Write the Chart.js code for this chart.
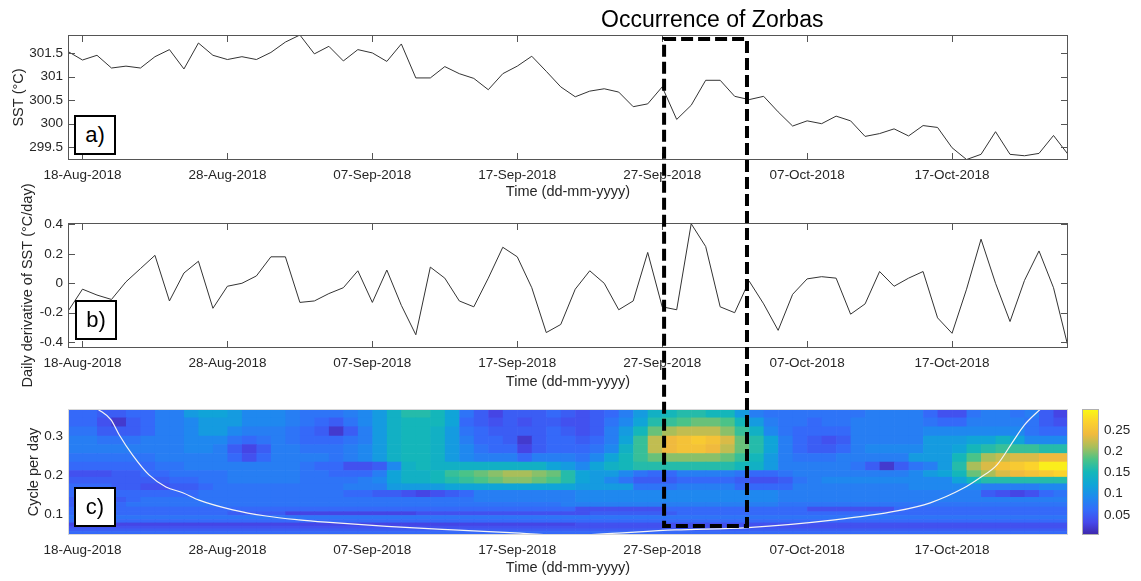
<!DOCTYPE html>
<html>
<head>
<meta charset="utf-8">
<script src="https://cdn.jsdelivr.net/npm/chart.js@4.4.0/dist/chart.umd.min.js"></script>
<style>
  body { margin: 0; background: #fff; }
  #fig { position: relative; width: 1141px; height: 581px; font-family: 'Liberation Sans', Arial, sans-serif; color: #000; overflow: hidden; }
  #fig canvas { position: absolute; left: 0; top: 0; }
  .tag { position: absolute; width: 42px; height: 40px; box-sizing: border-box; border: 2px solid #000; background: #fff; font-size: 22px; line-height: 36px; text-align: center; }
  #title { position: absolute; left: 601px; top: 8px; font-size: 23px; line-height: 22px; white-space: nowrap; }
</style>
</head>
<body>
<div id="fig">
  <canvas id="sstChart" width="1141" height="581"></canvas>
  <canvas id="derivChart" width="1141" height="581"></canvas>
  <canvas id="waveChart" width="1141" height="581"></canvas>
  <div id="title">Occurrence of Zorbas</div>
  <div class="tag" style="left:74px;top:115px">a)</div>
  <div class="tag" style="left:75px;top:300px">b)</div>
  <div class="tag" style="left:74px;top:487px">c)</div>
</div>
<script>
// day 0 = 18-Aug-2018, daily values 17-Aug-2018 .. 25-Oct-2018
var days = [-1,0,1,2,3,4,5,6,7,8,9,10,11,12,13,14,15,16,17,18,19,20,21,22,23,24,25,26,27,28,29,30,31,32,33,34,35,36,37,38,39,40,41,42,43,44,45,46,47,48,49,50,51,52,53,54,55,56,57,58,59,60,61,62,63,64,65,66,67,68];
var xTickDays = [0, 10, 20, 30, 40, 50, 60];
var xTickLabels = ['18-Aug-2018', '28-Aug-2018', '07-Sep-2018', '17-Sep-2018', '27-Sep-2018', '07-Oct-2018', '17-Oct-2018'];

// a) SST
var sst = [301.53,301.35,301.45,301.18,301.22,301.18,301.42,301.57,301.16,301.71,
  301.45,301.36,301.42,301.36,301.51,301.73,301.88,301.48,301.64,301.33,
  301.57,301.50,301.32,301.69,300.97,300.97,301.21,301.06,300.96,300.72,
  301.06,301.22,301.43,301.11,300.78,300.57,300.69,300.74,300.67,300.36,
  300.42,300.78,300.09,300.39,300.92,300.92,300.58,300.51,300.58,300.25,
  299.95,300.06,300.00,300.16,300.06,299.73,299.79,299.89,299.74,299.96,
  299.92,299.49,299.24,299.35,299.83,299.35,299.32,299.37,299.75,299.35];
var sstTicks = [299.5, 300, 300.5, 301, 301.5];

// b) daily derivative
var dSst = [-0.19,-0.04,-0.08,-0.11,0.01,0.10,0.19,-0.12,0.07,0.15,
  -0.17,-0.02,0.00,0.05,0.18,0.18,-0.13,-0.12,-0.07,-0.03,
  0.085,-0.13,0.09,-0.15,-0.35,0.11,0.035,-0.12,-0.16,0.035,
  0.245,0.18,-0.03,-0.335,-0.28,-0.04,0.085,0.00,-0.18,-0.12,
  0.21,-0.16,-0.18,0.405,0.25,-0.16,-0.20,0.015,-0.14,-0.32,
  -0.075,0.03,0.045,0.035,-0.21,-0.14,0.08,-0.02,0.035,0.08,
  -0.235,-0.34,-0.04,0.30,0.00,-0.26,0.02,0.22,-0.03,-0.43];
var dSstTicks = [-0.4, -0.2, 0, 0.2, 0.4];

// c) wavelet power (x100), rows top (high freq) to bottom, one column per day cell
var freqEdges = [0.371,0.349,0.326,0.302,0.280,0.257,0.235,0.213,0.196,0.179,0.162,0.144,0.131,0.119,0.107,0.097,0.087,0.078,0.070,0.063,0.056,0.050,0.046];
var freqTicks = [0.1, 0.2, 0.3];
var power = [
  [6,6,5,5,6,6,8,8,11,12, 12,11,9,9,9,8,7,7,7,8, 9,11,14,16,16,15,12,7,5,3, 5,5,5,6,5,4,5,6,8,11, 14,15,16,16,15,15,11,8,7,7, 7,7,7,7,7,8,8,8,8,6, 4,4,7,8,8,7,8,5,3],
  [6,6,4,2,5,6,8,8,9,11, 11,11,9,9,9,8,7,6,5,7, 9,11,14,15,15,15,12,6,5,4, 5,4,5,5,4,4,5,7,9,12, 16,17,18,19,19,18,15,11,8,7, 7,6,7,7,8,8,8,8,8,7, 6,6,8,8,8,8,7,5,4],
  [7,7,5,5,5,6,8,8,9,11, 11,9,8,8,8,7,6,5,2,5, 8,11,14,15,15,14,11,7,6,5, 5,5,5,6,5,4,5,8,11,15, 19,21,22,22,22,20,17,14,9,7, 6,6,6,6,8,8,8,8,8,9, 9,9,9,9,9,9,7,6,6],
  [8,8,7,7,7,8,8,8,9,9, 9,7,6,7,8,7,6,6,6,7, 8,11,14,15,15,14,11,8,6,6, 5,2,5,6,6,5,6,8,12,17, 22,24,25,26,25,23,19,16,12,8, 6,5,4,5,8,8,8,8,8,11, 11,11,12,12,14,12,9,9,9],
  [8,8,8,8,8,8,8,8,9,9, 8,5,3,5,8,8,7,7,7,8, 9,11,14,15,15,14,11,9,7,6, 6,3,5,6,6,6,7,9,14,17, 22,24,25,25,24,22,19,16,12,8, 6,5,5,6,8,9,9,9,9,11, 11,12,15,16,17,17,17,16,16],
  [7,7,7,7,7,7,8,8,8,8, 8,6,4,6,8,8,8,8,7,8, 9,11,14,15,15,14,11,9,8,8, 8,6,8,8,8,7,9,12,15,17, 19,20,20,20,20,19,17,15,11,8, 7,7,7,8,8,8,8,8,11,11, 11,15,18,21,22,23,23,24,24],
  [6,6,6,6,6,6,7,7,8,8, 8,8,8,8,8,8,7,6,6,4, 4,5,9,14,15,14,14,14,14,14, 14,14,14,12,11,9,12,14,15,16, 16,16,16,16,16,16,15,14,11,8, 8,8,8,8,7,5,2,5,7,8, 11,16,21,23,25,26,27,29,29],
  [4,4,4,5,5,6,6,7,7,7, 7,8,8,8,8,8,7,7,6,6, 6,8,12,14,14,15,17,18,19,20, 21,21,20,19,16,12,11,11,9,7, 6,6,8,8,8,8,7,6,6,7, 8,8,8,8,8,8,8,8,9,11, 12,15,19,21,23,24,25,26,27],
  [5,5,5,5,5,5,5,6,6,7, 7,8,8,8,8,8,7,7,7,7, 8,9,12,14,14,15,16,17,18,19, 20,20,19,18,16,12,11,9,7,5, 5,5,6,6,6,6,5,4,4,5, 7,8,9,9,9,9,9,9,9,9, 9,12,15,16,16,16,16,16,16],
  [6,6,6,5,5,4,4,5,5,6, 7,7,7,7,7,7,7,7,7,8, 8,8,11,11,11,11,12,12,12,12, 12,12,12,12,12,11,11,11,11,7, 7,7,8,8,8,8,6,6,6,6, 8,8,8,8,8,8,8,8,9,9, 9,9,9,8,8,8,8,9,9],
  [6,6,6,6,6,6,6,6,6,7, 7,7,7,7,7,7,7,7,7,6, 6,5,5,4,3,4,5,6,8,8, 8,8,8,8,8,9,9,9,9,9, 9,9,9,9,9,9,9,9,9,8, 8,8,8,8,8,8,8,8,8,8, 8,8,8,5,4,3,4,6,7],
  [5,5,5,5,6,7,7,7,7,7, 7,7,7,7,7,7,7,7,7,7, 7,7,7,7,7,7,7,7,8,8, 8,8,8,8,8,9,9,9,9,9, 9,9,9,9,9,9,9,9,9,8, 8,8,8,8,8,8,8,8,8,8, 8,8,8,8,8,8,8,8,8],
  [5,5,5,6,7,7,7,7,7,7, 7,7,7,7,7,7,7,7,7,7, 7,7,7,7,7,7,7,7,7,7, 7,7,7,7,8,8,8,8,8,8, 8,8,8,8,8,8,8,8,8,7, 7,7,7,7,7,7,7,7,7,7, 7,7,7,7,7,7,7,7,7],
  [6,6,6,6,6,6,6,6,6,6, 6,6,6,6,6,6,6,6,6,6, 6,6,6,6,6,6,6,6,6,6, 6,6,6,6,6,4,4,4,4,4, 4,6,6,6,6,6,6,6,6,6, 6,4,4,4,4,4,4,6,6,6, 6,6,6,6,6,6,6,6,6],
  [6,6,6,6,6,6,6,6,6,6, 6,5,5,5,5,3,3,3,3,3, 3,3,3,3,4,4,4,4,4,4, 4,4,4,4,4,4,5,5,5,5, 5,5,6,6,6,6,6,6,6,6, 6,6,6,6,6,6,6,6,6,6, 6,6,6,6,6,6,6,6,6],
  [7,7,7,7,7,7,7,7,7,7, 7,7,7,7,7,7,7,7,7,7, 7,7,7,7,7,7,7,7,7,7, 7,7,7,7,7,7,7,7,7,7, 7,7,7,7,7,7,7,7,7,7, 7,7,7,7,7,7,7,7,7,7, 7,7,7,7,7,7,7,7,7],
  [6,6,6,6,6,6,6,6,6,6, 6,6,6,6,6,6,6,6,6,6, 6,6,6,6,6,6,6,6,6,6, 6,6,6,6,6,6,6,6,6,6, 6,6,6,6,6,6,6,6,6,6, 6,6,6,6,6,6,6,6,6,6, 6,6,6,6,6,6,6,6,6],
  [3,3,3,3,3,3,3,3,3,3, 3,3,3,3,3,3,3,3,3,3, 3,3,3,3,3,3,3,3,3,3, 3,3,3,3,3,4,4,4,4,4, 4,4,4,4,4,4,4,4,4,4, 4,4,4,4,4,4,4,4,4,4, 4,4,4,4,4,4,4,4,4],
  [4,4,4,4,4,4,4,4,4,4, 4,4,4,4,4,4,4,4,4,4, 4,4,4,4,4,4,4,4,4,4, 4,4,4,4,4,4,4,4,4,4, 4,4,4,4,4,4,4,4,4,4, 4,4,4,4,4,4,4,4,4,4, 4,4,4,4,4,4,4,4,4],
  [5,5,5,5,5,5,5,5,5,5, 5,5,5,5,5,5,5,5,5,5, 5,5,5,5,5,5,5,5,5,5, 5,5,5,5,5,5,5,5,5,5, 5,5,5,5,5,5,5,5,5,5, 5,5,5,5,5,5,5,5,5,5, 5,5,5,5,5,5,5,5,5],
  [6,6,6,6,6,6,6,6,6,6, 6,6,6,6,6,6,6,6,6,6, 6,6,6,6,6,6,6,6,6,6, 6,6,6,6,6,6,6,6,6,6, 6,6,6,6,6,6,6,6,6,6, 6,6,6,6,6,6,6,6,6,6, 6,6,6,6,6,6,6,6,6],
  [6,6,6,6,6,6,6,6,6,6, 6,6,6,6,6,6,6,6,6,6, 6,6,6,6,6,6,6,6,6,6, 6,6,6,6,6,6,6,6,6,6, 6,6,6,6,6,6,6,6,6,6, 6,6,6,6,6,6,6,6,6,6, 6,6,6,6,6,6,6,6,6]
];
// cone of influence
var coiDays = [1.05,1.97,2.54,3.46,4.59,5.76,6.92,8.04,10.37,12.66,14.94,16.8,21.0,25.6,30.2,33.0,35.4,40.9,45.9,51.9,56.2,58.5,60.8,61.9,63.1,64.2,65.0,66.1];
var coiFreq = [0.371,0.343,0.304,0.252,0.201,0.170,0.155,0.136,0.111,0.095,0.085,0.079,0.068,0.059,0.051,0.045,0.048,0.059,0.065,0.085,0.108,0.129,0.167,0.193,0.227,0.287,0.330,0.371];
var cbMin = 0.003, cbMax = 0.299;
var cbTicks = [0.05, 0.1, 0.15, 0.2, 0.25];
// Zorbas window (days)
var zorbasDays = [40.13, 45.85];

var parulaStops = [[0,62,38,168],[0.1,70,72,235],[0.2,52,108,250],[0.3,30,138,238],[0.4,15,165,215],
  [0.5,20,183,185],[0.6,75,195,135],[0.7,170,190,90],[0.8,240,186,62],[0.9,252,210,45],[1,249,250,20]];

function parula(v) {
  var t = (v - cbMin) / (cbMax - cbMin);
  t = Math.max(0, Math.min(1, t));
  for (var i = 1; i < parulaStops.length; i++) {
    var a = parulaStops[i - 1], b = parulaStops[i];
    if (t <= b[0]) {
      var f = (t - a[0]) / (b[0] - a[0]);
      return 'rgb(' + Math.round(a[1] + f * (b[1] - a[1])) + ',' + Math.round(a[2] + f * (b[2] - a[2])) + ',' + Math.round(a[3] + f * (b[3] - a[3])) + ')';
    }
  }
  return 'rgb(249,250,20)';
}

Chart.defaults.font.family = "'Liberation Sans', Arial, Helvetica, sans-serif";
Chart.defaults.font.size = 13.5;
Chart.defaults.color = '#262626';

// box round the axes, MATLAB style ticks pointing inwards
var framePlugin = {
  id: 'frame',
  afterDraw: function(chart, args, opts) {
    var ctx = chart.ctx, a = chart.chartArea, x = chart.scales.x, y = chart.scales.y;
    ctx.save();
    ctx.strokeStyle = opts.color;
    ctx.lineWidth = 1;
    if (opts.ticks) {
      ctx.beginPath();
      x.ticks.forEach(function(t) {
        var px = Math.round(x.getPixelForValue(t.value)) + 0.5;
        ctx.moveTo(px, a.bottom); ctx.lineTo(px, a.bottom - 7);
        ctx.moveTo(px, a.top); ctx.lineTo(px, a.top + 7);
      });
      y.ticks.forEach(function(t) {
        var py = Math.round(y.getPixelForValue(t.value)) + 0.5;
        ctx.moveTo(a.left, py); ctx.lineTo(a.left + 7, py);
        ctx.moveTo(a.right, py); ctx.lineTo(a.right - 7, py);
      });
      ctx.stroke();
    }
    ctx.strokeRect(Math.round(a.left) + 0.5, Math.round(a.top) + 0.5, Math.round(a.width) - 1, Math.round(a.height) - 1);
    ctx.restore();
  }
};

var heatmapPlugin = {
  id: 'heatmap',
  beforeDatasetsDraw: function(chart) {
    var ctx = chart.ctx, a = chart.chartArea, x = chart.scales.x, y = chart.scales.y;
    ctx.save();
    ctx.beginPath();
    ctx.rect(a.left, a.top, a.width, a.height);
    ctx.clip();
    for (var r = 0; r < power.length; r++) {
      var y0 = y.getPixelForValue(freqEdges[r]), y1 = y.getPixelForValue(freqEdges[r + 1]);
      for (var c = 0; c < power[r].length; c++) {
        var x0 = x.getPixelForValue(days[c]), x1 = x.getPixelForValue(days[c + 1]);
        ctx.fillStyle = parula(power[r][c] / 100);
        ctx.fillRect(x0, y0, x1 - x0 + 0.6, y1 - y0 + 0.6);
      }
    }
    ctx.restore();
  }
};

var colorbarPlugin = {
  id: 'colorbar',
  afterDraw: function(chart) {
    var ctx = chart.ctx, a = chart.chartArea, cb = chart.scales.cb;
    var left = a.right + 14, width = 17;
    var top = cb.getPixelForValue(cbMax), bottom = cb.getPixelForValue(cbMin);
    var g = ctx.createLinearGradient(0, bottom, 0, top);
    parulaStops.forEach(function(s) { g.addColorStop(s[0], 'rgb(' + s[1] + ',' + s[2] + ',' + s[3] + ')'); });
    ctx.save();
    ctx.fillStyle = g;
    ctx.fillRect(left, top, width, bottom - top);
    ctx.strokeStyle = '#b0b0b0';
    ctx.lineWidth = 1;
    ctx.strokeRect(left + 0.5, top + 0.5, width - 1, bottom - top - 1);
    ctx.restore();
  }
};

var zorbasPlugin = {
  id: 'zorbas',
  afterDraw: function(chart) {
    var ctx = chart.ctx, x = chart.scales.x;
    var x0 = x.getPixelForValue(zorbasDays[0]), x1 = x.getPixelForValue(zorbasDays[1]);
    ctx.save();
    ctx.strokeStyle = '#000';
    ctx.lineWidth = 4;
    ctx.setLineDash([12, 5]);
    ctx.strokeRect(x0, 39, x1 - x0, 526 - 39);
    ctx.restore();
  }
};

function xAxis(height) {
  return {
    type: 'linear',
    min: days[0],
    max: days[days.length - 1],
    afterBuildTicks: function(s) { s.ticks = xTickDays.map(function(v) { return {value: v}; }); },
    afterFit: function(s) { s.height = height; },
    grid: {display: false, drawTicks: false},
    border: {display: false},
    ticks: {padding: 7, maxRotation: 0, autoSkip: false, color: '#262626',
      callback: function(v) { return xTickLabels[xTickDays.indexOf(v)]; }},
    title: {display: true, text: 'Time (dd-mm-yyyy)', color: '#262626', font: {size: 14.5}, padding: {top: 0, bottom: 4}}
  };
}

function yAxis(min, max, tickVals, text, titlePad) {
  return {
    type: 'linear',
    min: min,
    max: max,
    afterBuildTicks: function(s) { s.ticks = tickVals.map(function(v) { return {value: v}; }); },
    afterFit: function(s) { s.width = 68; },
    grid: {display: false, drawTicks: false},
    border: {display: false},
    ticks: {padding: 5, color: '#262626', callback: function(v) { return String(v); }},
    title: {display: true, text: text, color: '#262626', font: {size: 14.5}, padding: {top: titlePad, bottom: 0}}
  };
}

var common = {
  responsive: false,
  animation: false,
  events: []
};

new Chart(document.getElementById('sstChart'), {
  type: 'line',
  data: {
    datasets: [{
      data: days.map(function(d, i) { return {x: d, y: sst[i]}; }),
      borderColor: '#333', borderWidth: 1, pointRadius: 0, tension: 0
    }]
  },
  options: Object.assign({}, common, {
    layout: {padding: {left: 0, right: 73, top: 35, bottom: 376}},
    plugins: {legend: {display: false}, tooltip: {enabled: false}, frame: {color: '#555', ticks: true}},
    scales: {x: xAxis(45), y: yAxis(299.23, 301.88, sstTicks, 'SST (°C)', 10)}
  }),
  plugins: [framePlugin]
});

new Chart(document.getElementById('derivChart'), {
  type: 'line',
  data: {
    datasets: [{
      data: days.map(function(d, i) { return {x: d, y: dSst[i]}; }),
      borderColor: '#333', borderWidth: 1, pointRadius: 0, tension: 0
    }]
  },
  options: Object.assign({}, common, {
    layout: {padding: {left: 0, right: 73, top: 223, bottom: 186}},
    plugins: {legend: {display: false}, tooltip: {enabled: false}, frame: {color: '#555', ticks: true}},
    scales: {x: xAxis(47), y: yAxis(-0.44, 0.41, dSstTicks, 'Daily derivative of SST (°C/day)', 19)}
  }),
  plugins: [framePlugin]
});

new Chart(document.getElementById('waveChart'), {
  type: 'line',
  data: {
    datasets: [{
      data: coiDays.map(function(d, i) { return {x: d, y: coiFreq[i]}; }),
      borderColor: '#f4f4f4', borderWidth: 1.2, pointRadius: 0, cubicInterpolationMode: 'monotone'
    }]
  },
  options: Object.assign({}, common, {
    layout: {padding: {left: 0, right: 0, top: 409, bottom: 0}},
    plugins: {legend: {display: false}, tooltip: {enabled: false}, frame: {color: '#d8d8d8', ticks: false}},
    scales: {
      x: xAxis(46),
      y: yAxis(0.046, 0.371, freqTicks, 'Cycle per day', 25),
      cb: {
        type: 'linear',
        position: 'right',
        min: cbMin,
        max: cbMax,
        afterBuildTicks: function(s) { s.ticks = cbTicks.map(function(v) { return {value: v}; }); },
        afterFit: function(s) { s.width = 73; },
        grid: {display: false, drawTicks: false},
        border: {display: false},
        ticks: {padding: 36, color: '#262626', callback: function(v) { return String(v); }}
      }
    }
  }),
  plugins: [heatmapPlugin, framePlugin, colorbarPlugin, zorbasPlugin]
});
</script>
</body>
</html>
